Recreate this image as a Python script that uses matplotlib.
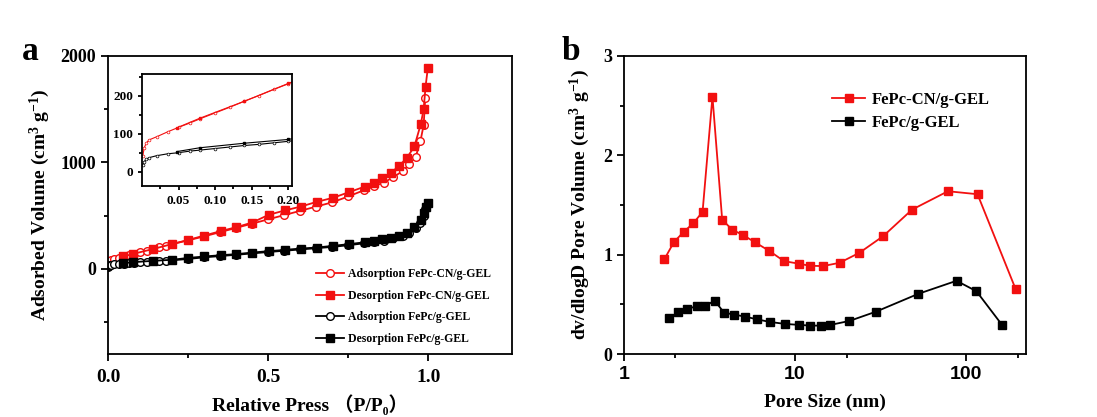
import matplotlib
matplotlib.use("Agg")
import matplotlib.pyplot as plt
from matplotlib.ticker import FixedLocator, MultipleLocator, NullFormatter

plt.rcParams["font.family"] = ["Liberation Serif", "Noto Sans CJK SC", "DejaVu Sans"]
plt.rcParams["font.weight"] = "bold"
plt.rcParams["mathtext.fontset"] = "custom"
plt.rcParams["mathtext.rm"] = "Liberation Serif:bold"
plt.rcParams["mathtext.it"] = "Liberation Serif:bold"
plt.rcParams["mathtext.bf"] = "Liberation Serif:bold"

RED = "#f21010"

# ---- panel a: N2 isotherms ----
ads_p = [0.001, 0.003, 0.006, 0.01, 0.02, 0.035, 0.05, 0.065, 0.08, 0.10, 0.12, 0.14,
         0.16, 0.18, 0.20, 0.25, 0.30, 0.35, 0.40, 0.45, 0.50, 0.55, 0.60, 0.65, 0.70,
         0.75, 0.80, 0.83, 0.86, 0.89, 0.92, 0.94, 0.96, 0.975, 0.985, 0.99]
ads_cn = [40, 62, 76, 84, 92, 105, 117, 128, 140, 155, 170, 186,
          201, 217, 232, 268, 305, 345, 385, 425, 465, 505, 545, 585, 625,
          680, 740, 775, 810, 860, 920, 980, 1050, 1200, 1350, 1600]
ads_fe = [18, 26, 33, 37, 42, 47, 50, 54, 57, 61, 65, 69,
          72, 76, 80, 93, 108, 120, 132, 145, 158, 170, 182, 194, 206,
          222, 240, 252, 265, 285, 310, 335, 380, 430, 500, 560]

des_p = [0.048, 0.079, 0.14, 0.20, 0.251, 0.301, 0.351, 0.40, 0.45, 0.501, 0.551, 0.602,
         0.651, 0.702, 0.752, 0.802, 0.831, 0.855, 0.882, 0.908, 0.932, 0.956, 0.976,
         0.985, 0.991, 0.998]
des_cn = [116, 141, 186, 233, 272, 313, 354, 391, 435, 507, 548, 585,
          629, 667, 720, 773, 804, 851, 898, 967, 1039, 1149, 1358,
          1499, 1712, 1884]
des_fe = [53, 63, 75, 85, 103, 116, 128, 138, 153, 166, 178, 191,
          200, 216, 232, 250, 266, 279, 290, 305, 335, 391, 460,
          529, 585, 623]

# ---- panel b: pore size distribution ----
size_cn = [1.72, 1.96, 2.24, 2.54, 2.88, 3.29, 3.75, 4.29, 4.97, 5.85, 7.05, 8.62,
           10.6, 12.2, 14.6, 18.2, 23.8, 32.8, 48.3, 78.3, 116.6, 194.5]
psd_cn = [0.952, 1.127, 1.231, 1.315, 1.43, 2.59, 1.352, 1.251, 1.197, 1.123, 1.039, 0.935,
          0.908, 0.888, 0.885, 0.918, 1.019, 1.187, 1.453, 1.638, 1.608, 0.656]
size_fe = [1.83, 2.08, 2.34, 2.66, 2.99, 3.39, 3.84, 4.39, 5.09, 5.96, 7.12, 8.74,
           10.6, 12.3, 14.1, 16.1, 20.8, 29.8, 52.4, 87.9, 114.9, 162.2]
psd_fe = [0.363, 0.420, 0.454, 0.481, 0.484, 0.538, 0.417, 0.397, 0.377, 0.350, 0.323, 0.303,
          0.293, 0.286, 0.286, 0.293, 0.333, 0.427, 0.605, 0.737, 0.632, 0.293]


def style_axes(ax, size=13):
    for s in ax.spines.values():
        s.set_linewidth(1.3)
    ax.tick_params(which="both", direction="out", width=1.3, labelsize=size,
                   top=False, right=False)
    ax.tick_params(which="major", length=5)
    ax.tick_params(which="minor", length=3)


fig = plt.figure(figsize=(10.97, 4.17), dpi=100)
ax1 = fig.add_axes([0.0985, 0.151, 0.368, 0.715])
ax2 = fig.add_axes([0.5688, 0.151, 0.3665, 0.715])

# panel a
ax1.plot(ads_p, ads_cn, "-o", color=RED, mfc="white", ms=5.5, lw=1.3, mew=1.0,
         label="Adsorption FePc-CN/g-GEL")
ax1.plot(des_p, des_cn, "-s", color=RED, ms=5.5, lw=1.3, label="Desorption FePc-CN/g-GEL")
ax1.plot(ads_p, ads_fe, "-o", color="black", mfc="white", ms=5.5, lw=1.3, mew=1.0,
         label="Adsorption FePc/g-GEL")
ax1.plot(des_p, des_fe, "-s", color="black", ms=5.5, lw=1.3, label="Desorption FePc/g-GEL")
ax1.set_xlim(0, 1.26)
ax1.set_ylim(-800, 2000)
ax1.xaxis.set_major_locator(FixedLocator([0.0, 0.5, 1.0]))
ax1.xaxis.set_minor_locator(FixedLocator([0.25, 0.75]))
ax1.yaxis.set_major_locator(FixedLocator([0, 1000, 2000]))
ax1.yaxis.set_minor_locator(FixedLocator([-500, 500, 1500]))
style_axes(ax1)
ax1.tick_params(axis="x", labelsize=14, pad=6)
ax1.set_xlabel("Relative Press （P/P₀）", fontsize=14, fontweight="bold", labelpad=6)
ax1.set_ylabel("Adsorbed Volume (cm$^{3}$ g$^{-1}$)", fontsize=14, fontweight="bold",
               labelpad=6)
ax1.legend(loc="upper left", bbox_to_anchor=(0.515, 0.287), frameon=False,
           handlelength=2.4, handletextpad=0.3, labelspacing=0.8,
           borderpad=0, borderaxespad=0, prop={"weight": "bold", "size": 8.5})
fig.text(0.02, 0.855, "a", fontsize=24, fontweight="bold")

# inset
axi = fig.add_axes([0.1294, 0.554, 0.1367, 0.2686])
axi.plot(ads_p, ads_cn, "-o", color=RED, mfc="white", ms=2, lw=0.8, mew=0.5)
axi.plot(des_p, des_cn, "-s", color=RED, ms=2, lw=0.8)
axi.plot(ads_p, ads_fe, "-o", color="black", mfc="white", ms=2, lw=0.8, mew=0.5)
axi.plot(des_p, des_fe, "-s", color="black", ms=2, lw=0.8)
axi.set_xlim(0, 0.205)
axi.set_ylim(-38, 258)
axi.xaxis.set_major_locator(FixedLocator([0.05, 0.10, 0.15, 0.20]))
axi.xaxis.set_minor_locator(FixedLocator([0.025, 0.075, 0.125, 0.175]))
axi.yaxis.set_major_locator(FixedLocator([0, 100, 200]))
axi.yaxis.set_minor_locator(FixedLocator([50, 150, 250]))
axi.xaxis.set_major_formatter(plt.FuncFormatter(lambda v, p: f"{v:.2f}"))
style_axes(axi, size=9.5)
axi.tick_params(which="major", length=3)
axi.tick_params(which="minor", length=2)

# panel b
ax2.plot(size_cn, psd_cn, "-s", color=RED, ms=5.5, lw=1.3, label="FePc-CN/g-GEL")
ax2.plot(size_fe, psd_fe, "-s", color="black", ms=5.5, lw=1.3, label="FePc/g-GEL")
ax2.set_xscale("log")
ax2.set_xlim(1, 224)
ax2.set_ylim(0, 3)
ax2.xaxis.set_major_locator(FixedLocator([1, 10, 100]))
ax2.xaxis.set_major_formatter(plt.FuncFormatter(lambda v, p: f"{v:g}"))
ax2.xaxis.set_minor_locator(FixedLocator([2, 20, 200]))
ax2.xaxis.set_minor_formatter(NullFormatter())
ax2.yaxis.set_major_locator(MultipleLocator(1))
ax2.yaxis.set_minor_locator(MultipleLocator(0.5))
style_axes(ax2)
ax2.tick_params(axis="x", labelsize=14)
for lab in ax2.get_xticklabels():
    lab.set_fontfamily("Liberation Sans")
    lab.set_fontweight("bold")
ax2.set_xlabel("Pore Size (nm)", fontsize=14, fontweight="bold", labelpad=8)
ax2.set_ylabel("dv/dlogD Pore Volume (cm$^{3}$ g$^{-1}$)", fontsize=14,
               fontweight="bold", labelpad=8)
ax2.legend(loc="upper left", bbox_to_anchor=(0.517, 0.88), frameon=False,
           handlelength=2.0, handletextpad=0.4, labelspacing=0.45,
           borderpad=0, borderaxespad=0, prop={"weight": "bold", "size": 12})
fig.text(0.512, 0.855, "b", fontsize=24, fontweight="bold")

fig.savefig("out.png", dpi=100)
